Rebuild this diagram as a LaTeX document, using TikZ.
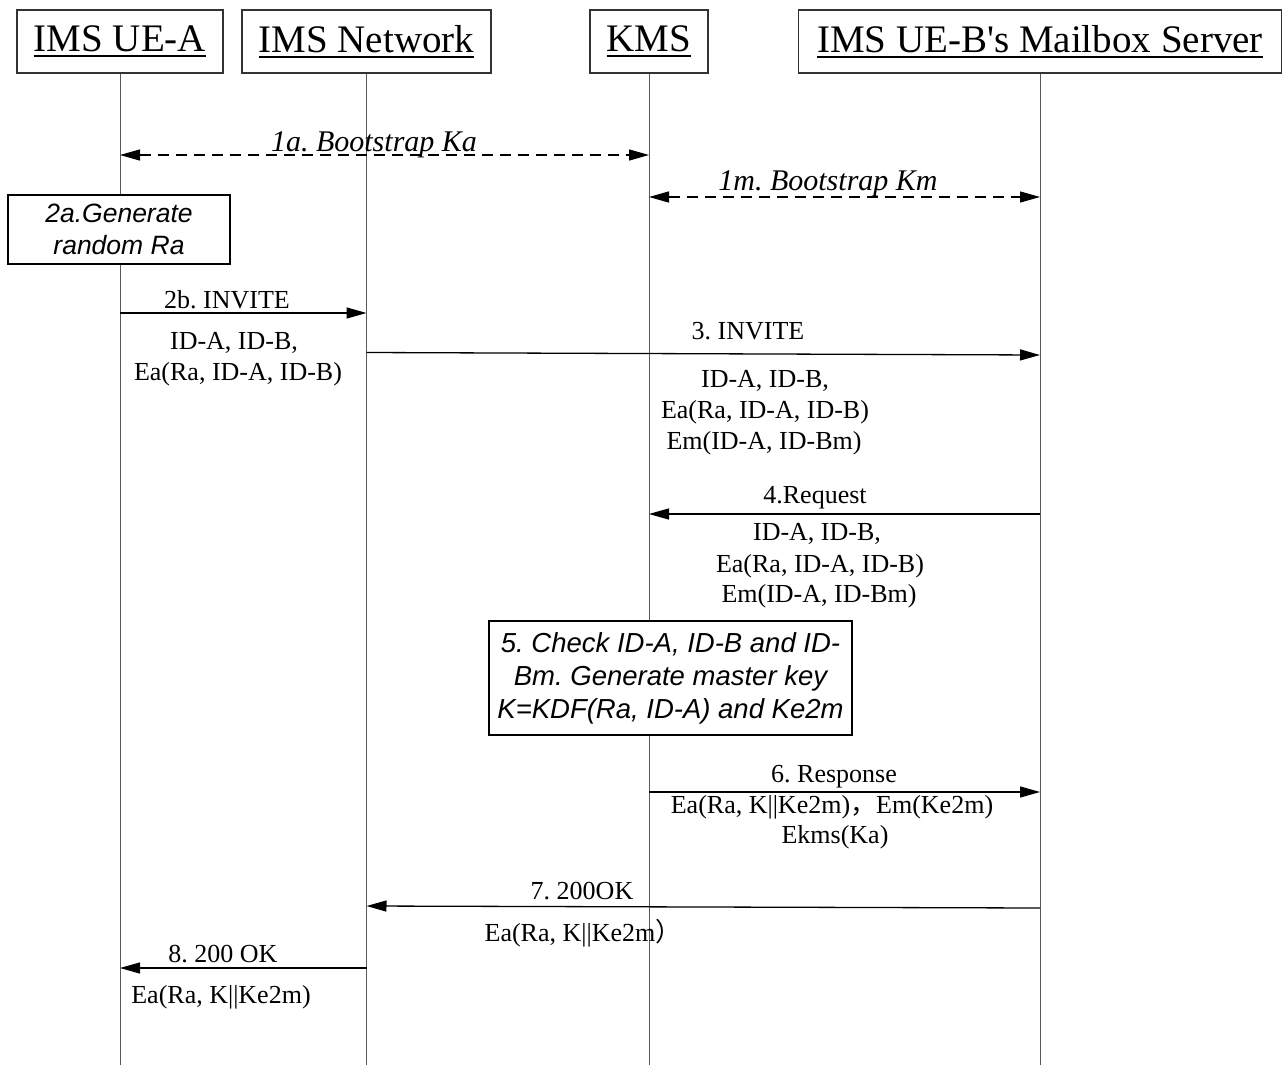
\documentclass[tikz,border=0pt]{standalone}
\usepackage{fontspec}
\setmainfont{Liberation Serif}
\newfontfamily\boxfont{Liberation Sans}
\newfontfamily\cjkfont{Noto Sans CJK SC}
\usetikzlibrary{arrows.meta}
\frenchspacing

% underlined participant title
\newcommand\headtext[1]{\setbox0\hbox{#1}\rlap{\rule[-5.5pt]{\wd0}{1.8pt}}\box0}
% straight apostrophe, taken as a glyph so no font mapping curls it
\newcommand\straightquote{\XeTeXglyph\XeTeXcharglyph"0027\relax}

\tikzset{
  head/.style={draw=black!80, line width=1.1pt, inner sep=0pt, minimum height=63pt,
               font=\fontsize{39}{44}\selectfont},
  life/.style={draw=black!65, line width=1pt},
  msg/.style={line width=1.3pt, -{Triangle[length=20pt,width=11pt]}},
  boot/.style={line width=1.3pt, dash pattern=on 11pt off 7pt,
               {Triangle[length=20pt,width=11pt]}-{Triangle[length=20pt,width=11pt]}},
  lbl/.style={inner sep=0pt, anchor=base, font=\fontsize{26}{30}\selectfont},
  blbl/.style={inner sep=0pt, anchor=base, font=\fontsize{30}{34}\selectfont\itshape},
  note/.style={draw, line width=1.2pt, fill=white, inner sep=0pt, align=center},
}

\begin{document}
\begin{tikzpicture}[x=1pt,y=-1pt]
\useasboundingbox (0,0) rectangle (1283,1065);

% participants
\node[head, minimum width=206pt] (A) at (120,41.5) {\headtext{IMS UE-A}};
\node[head, minimum width=249pt] (N) at (366.5,41.5) {\headtext{IMS Network}};
\node[head, minimum width=118pt] (K) at (649,41.5) {\headtext{KMS}};
\node[head, minimum width=483pt] (M) at (1040,41.5) {\headtext{IMS UE-B\straightquote s Mailbox Server}};

% lifelines
\coordinate (Aend) at (120,1065);
\coordinate (Nend) at (366.5,1065);
\coordinate (Kend) at (649,1065);
\coordinate (Mend) at (1040,1065);
\draw[life] (A.south) -- (Aend);
\draw[life] (N.south) -- (Nend);
\draw[life] (K.south) -- (Kend);
\draw[life] (M.south) -- (Mend);

% 1a / 1m bootstrapping
\coordinate (a1) at (120,155);
\coordinate (k1) at (649,155);
\draw[boot] (a1) -- (k1);
\node[blbl] (t1a) at (374,151) {1a. Bootstrap Ka};

\coordinate (k1m) at (649,197);
\coordinate (m1m) at (1040,197);
\draw[boot] (k1m) -- (m1m);
\node[blbl] (t1m) at (828,190) {1m. Bootstrap Km};

% 2a local step
\node[note, minimum width=222pt, minimum height=69pt,
      font=\boxfont\itshape\fontsize{26.5}{31.5}\selectfont] (s2a) at (119,229.5)
      {2a.Generate\\random Ra};

% 2b INVITE
\coordinate (a2) at (120,313);
\coordinate (n2) at (366.5,313);
\draw[msg] (a2) -- (n2);
\node[lbl] (t2b) at (227,308) {2b. INVITE};
\node[lbl] (t2b1) at (234,349) {ID-A, ID-B,};
\node[lbl] (t2b2) at (238,380) {Ea(Ra, ID-A, ID-B)};

% 3 INVITE
\coordinate (n3) at (366.5,352.5);
\coordinate (m3) at (1040,355);
\draw[msg] (n3) -- (m3);
\node[lbl] (t3) at (748,339) {3. INVITE};
\node[lbl] (t31) at (765,387) {ID-A, ID-B,};
\node[lbl] (t32) at (765,418) {Ea(Ra, ID-A, ID-B)};
\node[lbl] (t33) at (764,449) {Em(ID-A, ID-Bm)};

% 4 Request
\coordinate (m4) at (1040,514);
\coordinate (k4) at (649,514);
\draw[msg] (m4) -- (k4);
\node[lbl] (t4) at (815,503) {4.Request};
\node[lbl] (t41) at (817,540) {ID-A, ID-B,};
\node[lbl] (t42) at (820,572) {Ea(Ra, ID-A, ID-B)};
\node[lbl] (t43) at (819,602) {Em(ID-A, ID-Bm)};

% 5 KMS processing
\node[note, minimum width=363pt, minimum height=114pt,
      font=\boxfont\itshape\fontsize{27.5}{33}\selectfont] (s5) at (670.5,678)
      {5. Check ID-A, ID-B and ID-\\Bm. Generate master key\\K=KDF(Ra, ID-A) and Ke2m};

% 6 Response
\coordinate (k6) at (649,792);
\coordinate (m6) at (1040,792);
\draw[msg] (k6) -- (m6);
\node[lbl] (t6) at (834,782) {6. Response};
\node[lbl] (t61) at (832,813) {Ea(Ra, K||Ke2m){\cjkfont ，}Em(Ke2m)};
\node[lbl] (t62) at (835,843) {Ekms(Ka)};

% 7 200OK
\coordinate (m7) at (1040,908);
\coordinate (n7) at (366.5,906);
\draw[msg] (m7) -- (n7);
\node[lbl] (t7) at (582,899) {7. 200OK};
\node[lbl] (t71) at (583,941) {Ea(Ra, K||Ke2m{\cjkfont ）}};

% 8 200 OK
\coordinate (n8) at (366.5,968);
\coordinate (a8) at (120,968);
\draw[msg] (n8) -- (a8);
\node[lbl] (t8) at (223,962) {8. 200 OK};
\node[lbl] (t81) at (221,1003) {Ea(Ra, K||Ke2m)};
\end{tikzpicture}
\end{document}
